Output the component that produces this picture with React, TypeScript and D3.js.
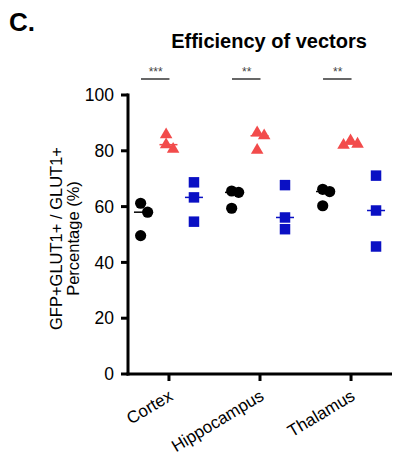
import React from 'react'
import * as d3 from 'd3'

const regions = ['Cortex', 'Hippocampus', 'Thalamus']
const groups = ['black', 'red', 'blue']
const blackValues = [
    [61.2, 58.0, 49.6],
    [65.6, 65.1, 59.4],
    [66.2, 65.4, 60.3]
]
const redValues = [
    [85.8, 82.2, 80.6],
    [86.5, 85.4, 80.2],
    [83.6, 82.4, 82.0]
]
const blueValues = [
    [68.7, 63.3, 54.6],
    [67.7, 56.1, 51.9],
    [71.1, 58.6, 45.7]
]
const stars = ['***', '**', '**']
const yTicks = [0, 20, 40, 60, 80, 100]

const W = 393
const H = 456
const font = 'Liberation Sans, Arial, sans-serif'
const colors = { black: '#000000', red: '#f24b4b', blue: '#0a10c4' }

const x = d3.scalePoint().domain(regions).range([128, 392]).padding(0.45)
const y = d3.scaleLinear().domain([0, 100]).range([374, 95])
const sub = d3.scalePoint().domain(groups).range([-26, 25])

// simple spread so overlapping points sit side by side
const spread = (vals: number[]) => {
    const order = d3.range(vals.length).sort((a, b) => vals[b] - vals[a])
    const placed: { py: number; dx: number }[] = []
    const dxs = Array(vals.length).fill(0)
    order.forEach(i => {
        const py = y(vals[i])
        const hits = placed.filter(p => Math.abs(p.py - py) < 10)
        const cand = [0, 7, -7, 3.5, -3.5].find(c => hits.every(p => Math.abs(p.dx - c) >= 7)) ?? 0
        dxs[i] = cand
        placed.push({ py, dx: cand })
    })
    const m = d3.mean(dxs)
    return dxs.map(d => d - m)
}

const triangle = d3.symbol().type(d3.symbolTriangle).size(68)()
const square = d3.symbol().type(d3.symbolSquare).size(110)()

const Group = ({ region, group, vals }) => {
    const cx = x(region) + sub(group)
    const dxs = spread(vals)
    const med = d3.median(vals)
    const col = colors[group]
    return (
        <g>
            <line x1={cx - 9} x2={cx + 9} y1={y(med)} y2={y(med)} stroke={col} strokeWidth={1.5} />
            {vals.map((v, i) =>
                group === 'black' ? (
                    <circle key={i} cx={cx + dxs[i]} cy={y(v)} r={5.6} fill={col} />
                ) : (
                    <path key={i} d={group === 'red' ? triangle : square} transform={`translate(${cx + dxs[i]},${y(v)})`} fill={col} />
                )
            )}
        </g>
    )
}

export default function App() {
    return (
        <svg width={W} height={H} style={{ position: 'absolute', left: 0, top: 0, background: '#fff' }} fontFamily={font}>
            <text x={9} y={31} fontSize={26} fontWeight="bold">C.</text>
            <text x={269} y={48} fontSize={20} fontWeight="bold" textAnchor="middle">Efficiency of vectors</text>

            {/* y axis */}
            <line x1={128} x2={128} y1={y(100) - 1.5} y2={y(0) + 1.5} stroke="#000" strokeWidth={3} />
            {yTicks.map(t => (
                <g key={t}>
                    <line x1={121} x2={128} y1={y(t)} y2={y(t)} stroke="#000" strokeWidth={3} />
                    <text x={114} y={y(t)} dy="0.35em" textAnchor="end" fontSize={17.5}>{t}</text>
                </g>
            ))}
            <text transform={`translate(62,${y(50) + 4}) rotate(-90)`} textAnchor="middle" fontSize={16.5}>GFP+GLUT1+ / GLUT1+</text>
            <text transform={`translate(79,${y(50) + 4}) rotate(-90)`} textAnchor="middle" fontSize={16.5}>Percentage (%)</text>

            {/* x axis */}
            <line x1={126.5} x2={392} y1={y(0)} y2={y(0)} stroke="#000" strokeWidth={3} />
            {regions.map(r => (
                <g key={r}>
                    <line x1={x(r)} x2={x(r)} y1={y(0)} y2={y(0) + 7} stroke="#000" strokeWidth={3} />
                    <text transform={`translate(${x(r) + 5},${y(0) + 25}) rotate(-31)`} textAnchor="end" fontSize={17}>{r}</text>
                </g>
            ))}

            {/* significance */}
            {regions.map((r, i) => (
                <g key={r}>
                    <line x1={x(r) + sub('black') - 2} x2={x(r) + sub('red') + 1} y1={79} y2={79} stroke="#000" strokeWidth={1.2} />
                    <text x={x(r) + (sub('black') + sub('red')) / 2} y={76} textAnchor="middle" fontSize={12} fill="#444">{stars[i]}</text>
                </g>
            ))}

            {regions.map((r, i) => (
                <g key={r}>
                    <Group region={r} group="black" vals={blackValues[i]} />
                    <Group region={r} group="red" vals={redValues[i]} />
                    <Group region={r} group="blue" vals={blueValues[i]} />
                </g>
            ))}
        </svg>
    )
}
